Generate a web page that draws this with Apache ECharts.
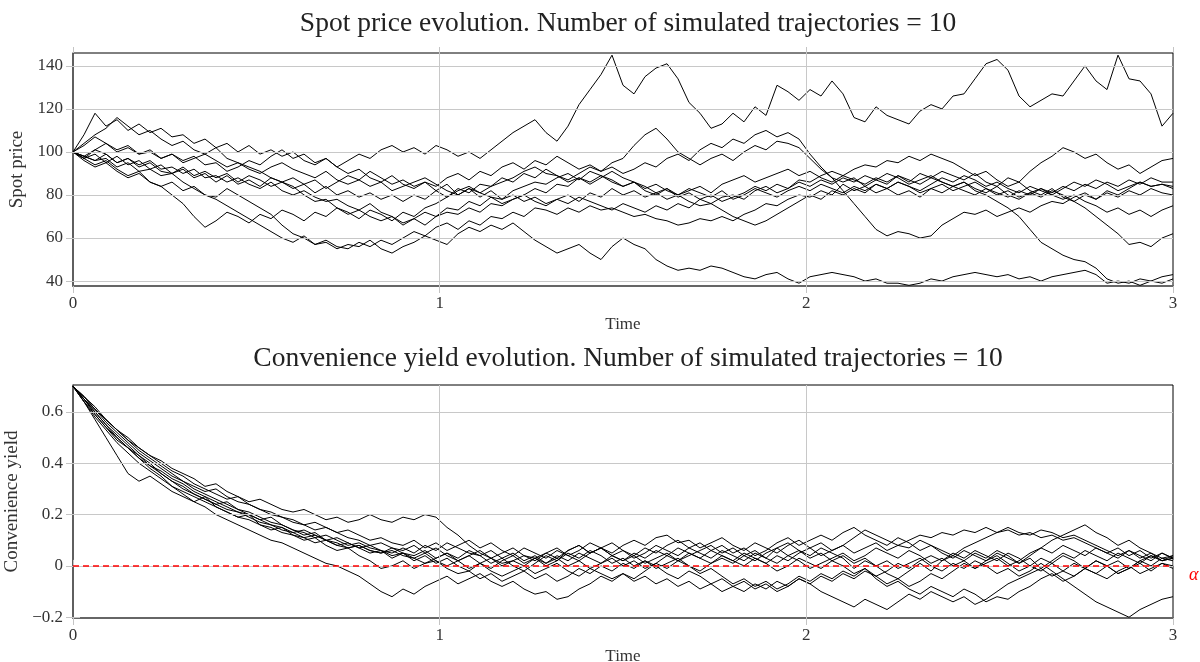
<!DOCTYPE html>
<html><head><meta charset="utf-8">
<script src="https://cdn.jsdelivr.net/npm/echarts@6/dist/echarts.min.js"></script>
<style>html,body{margin:0;padding:0;background:#fff}#c{width:1200px;height:662px}</style>
</head><body><div id="c"></div>
<script>
// ---- data ----
const T_END = 3;
const timeTicks = [0, 1, 2, 3];
const spotTicks = [40, 60, 80, 100, 120, 140];
const yieldTicks = [-0.2, 0, 0.2, 0.4, 0.6];
const alphaLevel = 0;
const titleSpot = 'Spot price evolution. Number of simulated trajectories = 10';
const titleYield = 'Convenience yield evolution. Number of simulated trajectories = 10';

const spotA = [100,103,107,104,101,103,99,100,97,99,
 96,98,94,95,91,93,96,94,98,101,
 97,99,95,97,93,96,99,97,101,103,
 100,102,99,103,101,98,100,97,101,105,
 109,112,115,109,105,112,122,129,136,145,
 131,127,135,139,141,134,123,118,111,113,
 118,114,121,117,131,128,124,129,126,133,
 127,116,114,121,117,115,113,119,122,120,
 126,127,134,141,143,138,126,121,124,127,
 126,133,140,133,129,145,134,133,127,112,
 118];
const spotB = [100,108,118,112,115,110,113,109,111,107,
 108,104,106,102,104,100,103,99,101,98,
 100,96,94,97,93,90,92,88,86,89,
 85,83,86,84,88,90,87,91,89,93,
 95,92,96,94,98,95,92,94,91,93,
 90,92,95,93,97,99,96,101,104,102,
 106,104,108,110,107,109,106,99,93,88,
 82,76,70,64,61,63,62,60,61,66,
 69,72,71,73,70,72,74,72,75,77,
 76,79,81,78,82,80,83,86,84,85,
 84];
const spotC = [100,97,101,99,95,97,93,95,91,90,
 92,88,90,86,89,85,87,84,88,86,
 83,85,81,84,80,82,79,81,78,80,
 77,80,78,82,79,83,81,85,84,88,
 86,90,88,92,89,87,90,93,91,95,
 97,103,108,111,106,100,97,94,97,99,
 96,100,103,101,105,104,102,97,92,88,
 86,88,84,87,85,89,86,90,88,91,
 89,87,90,86,84,88,86,91,95,98,
 102,100,97,99,95,92,94,90,93,96,
 97];
const spotD = [100,97,99,95,98,94,96,92,94,90,
 93,89,91,88,90,86,89,87,84,86,
 88,85,87,83,86,89,87,91,88,85,
 87,84,86,82,85,80,83,79,82,78,
 80,77,79,76,78,80,77,81,79,83,
 80,82,79,81,78,80,77,75,76,73,
 70,68,66,68,71,74,77,80,78,82,
 80,83,81,85,83,80,82,79,83,81,
 84,82,80,83,81,79,82,80,83,81,
 84,82,85,83,86,84,87,85,88,86,
 86];
const spotE = [100,97,94,96,92,89,91,86,84,80,
 76,70,65,68,72,70,67,71,69,73,
 71,68,72,70,74,72,69,73,71,68,
 72,70,74,76,79,82,84,81,79,76,
 78,80,77,75,78,76,79,77,75,73,
 76,74,72,75,73,76,74,78,76,79,
 80,78,82,84,81,83,86,84,87,85,
 88,86,89,87,90,88,85,87,89,86,
 84,86,83,81,84,80,78,81,79,82,
 80,77,74,70,66,62,57,58,56,60,
 62];
const spotF = [100,98,96,99,95,97,94,96,92,93,
 90,92,88,89,86,88,85,83,86,82,
 80,82,79,77,78,75,73,76,72,70,
 67,69,66,70,72,71,74,72,76,75,
 78,80,83,81,85,84,88,86,89,87,
 84,86,82,80,83,79,81,78,80,77,
 79,81,84,82,85,83,87,86,89,91,
 89,92,94,93,96,95,98,96,99,97,
 95,92,89,91,87,84,86,82,80,83,
 79,77,80,78,81,79,82,80,83,81,
 80];
const spotG = [100,104,108,111,116,112,108,110,106,103,
 105,101,99,102,97,95,93,91,88,86,
 84,80,77,78,74,71,73,70,68,70,
 66,69,72,70,74,73,77,75,79,78,
 82,84,86,85,88,90,87,91,89,86,
 84,86,83,85,82,80,83,81,79,82,
 78,80,83,81,79,82,84,82,85,83,
 81,84,82,85,83,86,84,81,83,85,
 82,84,86,83,80,82,79,81,83,80,
 78,80,77,75,72,74,71,73,70,73,
 75];
const spotH = [100,98,96,97,93,95,91,92,89,90,
 86,83,80,78,75,72,69,66,63,60,
 58,61,57,58,55,57,56,59,55,53,
 56,58,61,59,57,62,65,63,66,64,
 67,63,59,56,53,55,57,53,50,56,
 60,57,55,50,47,45,46,45,47,46,
 44,42,41,43,44,41,39,42,43,44,
 43,42,40,41,39,39,38,39,41,40,
 42,43,44,43,42,43,41,42,40,42,
 43,44,45,43,39,40,39,41,40,42,
 43];
const spotI = [100,98,101,104,100,102,99,101,97,99,
 95,97,99,96,93,95,92,90,93,95,
 92,90,88,91,87,85,87,84,86,82,
 84,86,88,85,82,80,83,81,84,86,
 88,91,93,90,89,86,88,85,88,91,
 88,86,84,81,83,80,82,84,81,85,
 87,89,86,88,90,92,89,91,88,86,
 89,87,85,88,86,89,87,85,88,86,
 84,86,82,80,77,74,70,64,58,55,
 52,50,49,46,41,39,40,38,40,39,
 41];
const spotJ = [100,96,93,95,91,88,90,86,84,86,
 82,84,80,79,83,80,77,74,71,66,
 62,60,57,59,56,55,58,56,59,57,
 60,63,61,65,67,64,68,66,70,69,
 72,70,74,73,71,74,72,75,73,74,
 72,70,71,69,68,66,67,69,68,70,
 68,71,73,76,75,78,80,79,82,80,
 85,82,84,81,83,86,84,82,85,88,
 86,89,87,84,86,83,81,84,82,80,
 83,86,84,87,85,82,84,86,84,85,
 83];

const yieldA = [.70,.64,.57,.50,.43,.36,.33,.35,.32,.29,
 .27,.25,.27,.23,.21,.19,.20,.16,.14,.15,
 .12,.10,.11,.08,.06,.07,.04,.02,-.01,.00,
 .02,-.01,.01,.03,.05,.03,.06,.04,.01,.03,
 .00,-.02,.01,.04,.02,.06,.08,.05,.07,.09,
 .06,.04,.07,.05,.08,.10,.07,.05,.03,.06,
 .04,.02,.05,.03,.07,.09,.06,.04,.07,.05,
 .03,-.01,.02,.00,-.03,-.05,-.02,.01,-.02,.02,
 .04,.02,.05,.03,.06,.04,.01,.03,-.01,.02,
 .05,.03,.06,.04,.02,.05,.03,.01,.04,.02,
 .03];
const yieldB = [.70,.65,.61,.57,.53,.49,.46,.43,.41,.38,
 .36,.34,.31,.32,.29,.27,.25,.26,.24,.22,
 .21,.22,.20,.18,.19,.17,.18,.20,.18,.17,
 .19,.18,.20,.19,.15,.12,.08,.05,.03,.01,
 .02,.04,.03,.05,.07,.04,.06,.09,.07,.05,
 .08,.10,.08,.11,.12,.09,.10,.07,.09,.11,
 .08,.06,.09,.07,.05,.08,.10,.07,.09,.06,
 .08,.11,.14,.12,.10,.08,.07,.10,.08,.06,
 .04,.07,.09,.11,.13,.15,.13,.12,.14,.13,
 .11,.12,.10,.08,.06,.04,.06,.03,.05,.02,
 .04];
const yieldC = [.70,.64,.59,.54,.49,.46,.42,.38,.35,.31,
 .28,.25,.23,.20,.18,.16,.14,.12,.10,.09,
 .07,.05,.03,.01,.00,-.02,-.04,-.07,-.10,-.12,
 -.09,-.11,-.08,-.06,-.04,-.07,-.05,-.03,-.06,-.08,
 -.06,-.09,-.11,-.10,-.13,-.12,-.09,-.07,-.04,-.06,
 -.03,-.05,-.02,.01,-.01,.02,.00,-.03,-.01,-.04,
 -.07,-.05,-.08,-.06,-.09,-.07,-.04,-.06,-.03,-.05,
 -.02,-.04,-.01,-.05,-.08,-.06,-.09,-.11,-.08,-.10,
 -.12,-.09,-.11,-.14,-.12,-.13,-.10,-.08,-.05,-.03,
 -.06,-.04,-.01,-.03,.00,.02,-.01,.01,-.02,.01,
 .00];
const yieldD = [.70,.65,.60,.55,.51,.47,.43,.40,.36,.33,
 .31,.28,.26,.24,.25,.22,.20,.18,.19,.16,
 .14,.12,.13,.10,.08,.09,.07,.05,.06,.03,
 .05,.02,.04,.01,.03,.00,-.02,.01,-.01,.02,
 .04,.01,.03,.00,.02,.05,.03,.06,.04,.01,
 .03,.00,.02,-.01,.01,.03,.00,-.02,.01,.03,
 .01,.04,.02,.05,.07,.04,.06,.03,.05,.02,
 .04,.01,.03,.00,.02,-.01,.01,.03,.00,-.02,
 .01,-.01,.02,.00,-.03,-.01,-.04,-.02,.01,-.02,
 -.05,-.08,-.11,-.14,-.16,-.18,-.20,-.17,-.15,-.13,
 -.12];
const yieldE = [.70,.66,.61,.56,.52,.48,.44,.41,.38,.35,
 .33,.30,.28,.26,.24,.22,.21,.19,.17,.16,
 .14,.13,.11,.12,.10,.08,.09,.07,.06,.04,
 .05,.03,.01,.02,-.01,-.03,-.02,-.05,-.03,-.06,
 -.04,-.02,-.05,-.03,-.06,-.04,-.01,-.03,.00,-.02,
 .01,-.01,.02,.00,-.03,-.05,-.02,-.04,-.07,-.05,
 -.08,-.10,-.07,-.09,-.06,-.08,-.05,-.07,-.10,-.12,
 -.14,-.16,-.13,-.15,-.17,-.14,-.11,-.13,-.10,-.12,
 -.14,-.12,-.15,-.13,-.10,-.07,-.05,-.03,-.01,-.04,
 -.02,.01,-.01,.02,.00,-.03,-.01,.02,.00,.03,
 .02];
const yieldF = [.70,.64,.58,.53,.48,.44,.40,.37,.34,.31,
 .29,.27,.25,.23,.21,.19,.18,.16,.15,.13,
 .12,.11,.09,.10,.08,.07,.08,.06,.05,.07,
 .05,.04,.06,.03,.05,.02,.04,.06,.03,.05,
 .07,.04,.02,.05,.03,.06,.08,.05,.07,.04,
 .06,.03,.05,.08,.06,.04,.07,.09,.06,.08,
 .05,.07,.04,.06,.09,.11,.08,.10,.12,.10,
 .13,.15,.12,.10,.08,.11,.09,.06,.08,.05,
 .03,.06,.04,.02,.05,.03,.01,.04,.07,.10,
 .12,.14,.16,.13,.11,.08,.10,.07,.05,.03,
 .04];
const yieldG = [.70,.66,.62,.57,.53,.49,.45,.42,.39,.36,
 .33,.31,.29,.30,.27,.25,.24,.22,.20,.19,
 .17,.16,.14,.15,.13,.11,.10,.08,.09,.07,
 .06,.08,.05,.07,.04,.02,.04,.01,.03,.00,
 .02,.00,.03,.01,.04,.02,.05,.03,.01,.04,
 .02,.05,.03,.06,.04,.07,.05,.03,.06,.04,
 .02,.05,.03,.01,.04,.02,.05,.07,.04,.06,
 .08,.05,.07,.09,.06,.08,.10,.12,.11,.13,
 .12,.14,.13,.15,.13,.14,.12,.13,.11,.12,
 .10,.11,.09,.07,.05,.07,.04,.06,.03,.05,
 .03];
const yieldH = [.70,.65,.60,.55,.50,.46,.42,.39,.36,.33,
 .30,.28,.26,.24,.22,.21,.19,.17,.16,.14,
 .13,.11,.12,.10,.09,.07,.08,.06,.05,.06,
 .04,.03,.05,.02,.00,.02,-.01,.01,-.02,-.04,
 -.02,.00,-.03,-.01,.01,-.02,-.04,-.01,-.03,-.05,
 -.03,-.06,-.04,-.07,-.05,-.08,-.06,-.09,-.07,-.10,
 -.08,-.06,-.09,-.07,-.10,-.08,-.05,-.07,-.04,-.06,
 -.03,-.05,-.02,-.04,-.07,-.05,-.08,-.06,-.03,-.05,
 -.02,.01,-.01,.02,.04,.01,-.02,.00,.03,.01,
 .04,.02,-.01,.02,.00,-.03,-.01,.02,.04,.02,
 .03];
const yieldI = [.70,.65,.59,.54,.50,.46,.43,.39,.37,.34,
 .32,.29,.27,.25,.23,.21,.20,.18,.16,.15,
 .13,.14,.12,.10,.11,.09,.07,.08,.06,.05,
 .07,.05,.08,.06,.09,.07,.05,.04,.06,.03,
 .05,.02,.04,.01,.03,.00,.02,-.01,.01,.03,
 .00,.02,-.01,.01,.04,.02,.05,.03,.01,.04,
 .02,.00,.03,.01,-.02,.00,.03,.01,-.01,.02,
 .00,-.03,-.01,-.04,-.02,.01,-.01,.02,.04,.02,
 .05,.03,.06,.04,.02,.05,.03,.00,-.02,.01,
 -.02,-.04,-.01,-.03,-.05,-.02,.00,-.03,-.01,.01,
 -.01];
const yieldJ = [.70,.66,.61,.57,.53,.50,.46,.43,.40,.37,
 .35,.32,.30,.28,.26,.27,.24,.22,.21,.19,
 .18,.16,.17,.15,.13,.14,.12,.10,.11,.09,
 .08,.10,.07,.09,.06,.08,.10,.07,.09,.06,
 .04,.07,.05,.03,.06,.04,.02,.05,.07,.04,
 .02,.04,.01,.03,.05,.02,.04,.06,.08,.05,
 .07,.04,.06,.03,.01,.04,.02,-.01,.01,.03,
 .05,.02,.04,.07,.05,.03,.06,.04,.01,.03,
 .00,.02,-.01,.01,.03,.00,.02,.05,.07,.05,
 .08,.06,.04,.07,.05,.03,.06,.04,.02,.05,
 .03];

const spotPaths = [spotA, spotB, spotC, spotD, spotE, spotF, spotG, spotH, spotI, spotJ];
const yieldPaths = [yieldA, yieldB, yieldC, yieldD, yieldE, yieldF, yieldG, yieldH, yieldI, yieldJ];

// ---- chart ----
const FONT = "'Liberation Serif', 'DejaVu Serif', serif";
const txt = { fontFamily: FONT, fontSize: 17, color: '#333' };
const GRAYTICK = '#c4c4c4';
const fmtNum = v => (v < 0 ? '\u2212' + String(Math.abs(v)) : String(v));

function path(arr, gi) {
  return {
    type: 'line', xAxisIndex: gi * 2, yAxisIndex: gi * 2,
    data: arr.map((v, i) => [i * T_END / (arr.length - 1), v]),
    showSymbol: false, symbol: 'none', silent: true, animation: false,
    lineStyle: { color: '#000', width: 1 }, itemStyle: { color: '#000' }, z: 3
  };
}
function gridLines(gi, yt) {
  return {
    type: 'line', xAxisIndex: gi * 2, yAxisIndex: gi * 2, data: [], silent: true, z: 1,
    markLine: {
      silent: true, symbol: 'none', animation: false, label: { show: false },
      lineStyle: { color: '#c8c8c8', width: 1, type: 'solid' },
      data: yt.map(v => ({ yAxis: v })).concat(timeTicks.slice(1, -1).map(v => ({ xAxis: v })))
    }
  };
}
function xAxes(gi) {
  return [
    { gridIndex: gi, type: 'value', min: 0, max: T_END, position: 'bottom',
      axisLine: { show: true, onZero: false, lineStyle: { color: '#666', width: 2 } },
      axisTick: { show: true, customValues: timeTicks, length: 7, lineStyle: { color: GRAYTICK } },
      axisLabel: Object.assign({ customValues: timeTicks, margin: 9, formatter: fmtNum }, txt),
      splitLine: { show: false },
      name: 'Time', nameLocation: 'middle', nameGap: 30, nameTextStyle: { fontFamily: FONT, fontSize: 17, color: '#333' } },
    { gridIndex: gi, type: 'value', min: 0, max: T_END, position: 'top',
      axisLine: { show: false },
      axisTick: { show: true, customValues: timeTicks, length: 6, lineStyle: { color: GRAYTICK } },
      axisLabel: { show: false }, splitLine: { show: false } }
  ];
}
function yAxes(gi, min, max, ticks, name) {
  return [
    { gridIndex: gi, type: 'value', min: min, max: max, position: 'left',
      axisLine: { show: true, onZero: false, lineStyle: { color: '#555', width: 1.5 } },
      axisTick: { show: true, customValues: ticks, length: 7, lineStyle: { color: GRAYTICK } },
      axisLabel: Object.assign({ customValues: ticks, margin: 10, formatter: fmtNum }, txt),
      splitLine: { show: false },
      name: name, nameLocation: 'middle', nameGap: 43, nameRotate: 90,
      nameTextStyle: { fontFamily: FONT, fontSize: 19, color: '#333' } },
    { gridIndex: gi, type: 'value', min: min, max: max, position: 'right',
      axisLine: { show: false },
      axisTick: { show: true, customValues: ticks, length: 7, lineStyle: { color: GRAYTICK } },
      axisLabel: { show: false }, splitLine: { show: false } }
  ];
}

const series = [gridLines(0, spotTicks), gridLines(1, yieldTicks.filter(v => v > -0.2))];
spotPaths.forEach(p => series.push(path(p, 0)));
yieldPaths.forEach(p => series.push(path(p, 1)));
series.push({
  type: 'line', xAxisIndex: 2, yAxisIndex: 2, data: [], silent: true, z: 5,
  markLine: {
    silent: true, symbol: 'none', animation: false,
    lineStyle: { color: '#ff0000', width: 1.5, type: [6, 4] },
    label: { show: true, position: 'end', formatter: '\u03b1', color: '#ff0000',
      fontFamily: FONT, fontStyle: 'italic', fontSize: 18, distance: 16, offset: [0, 9] },
    data: [{ yAxis: alphaLevel }]
  }
});

const chart = echarts.init(document.getElementById('c'), null, { renderer: 'canvas' });
chart.setOption({
  animation: false,
  backgroundColor: '#fff',
  title: [
    { text: titleSpot, left: 623, top: 5, textAlign: 'center',
      textStyle: { fontFamily: FONT, fontSize: 27.5, fontWeight: 'normal', color: '#222' } },
    { text: titleYield, left: 623, top: 340, textAlign: 'center',
      textStyle: { fontFamily: FONT, fontSize: 27.5, fontWeight: 'normal', color: '#222' } }
  ],
  grid: [
    { left: 73, right: 27, top: 53, height: 233, show: true, borderColor: '#000', borderWidth: 1,
      backgroundColor: 'transparent', containLabel: false, outerBoundsMode: 'none' },
    { left: 73, right: 27, top: 385, height: 233, show: true, borderColor: '#000', borderWidth: 1,
      backgroundColor: 'transparent', containLabel: false, outerBoundsMode: 'none' }
  ],
  xAxis: xAxes(0).concat(xAxes(1)),
  yAxis: yAxes(0, 37.7, 146, spotTicks, 'Spot price').concat(yAxes(1, -0.203, 0.705, yieldTicks, 'Convenience yield')),
  series: series
});
</script>
</body></html>
